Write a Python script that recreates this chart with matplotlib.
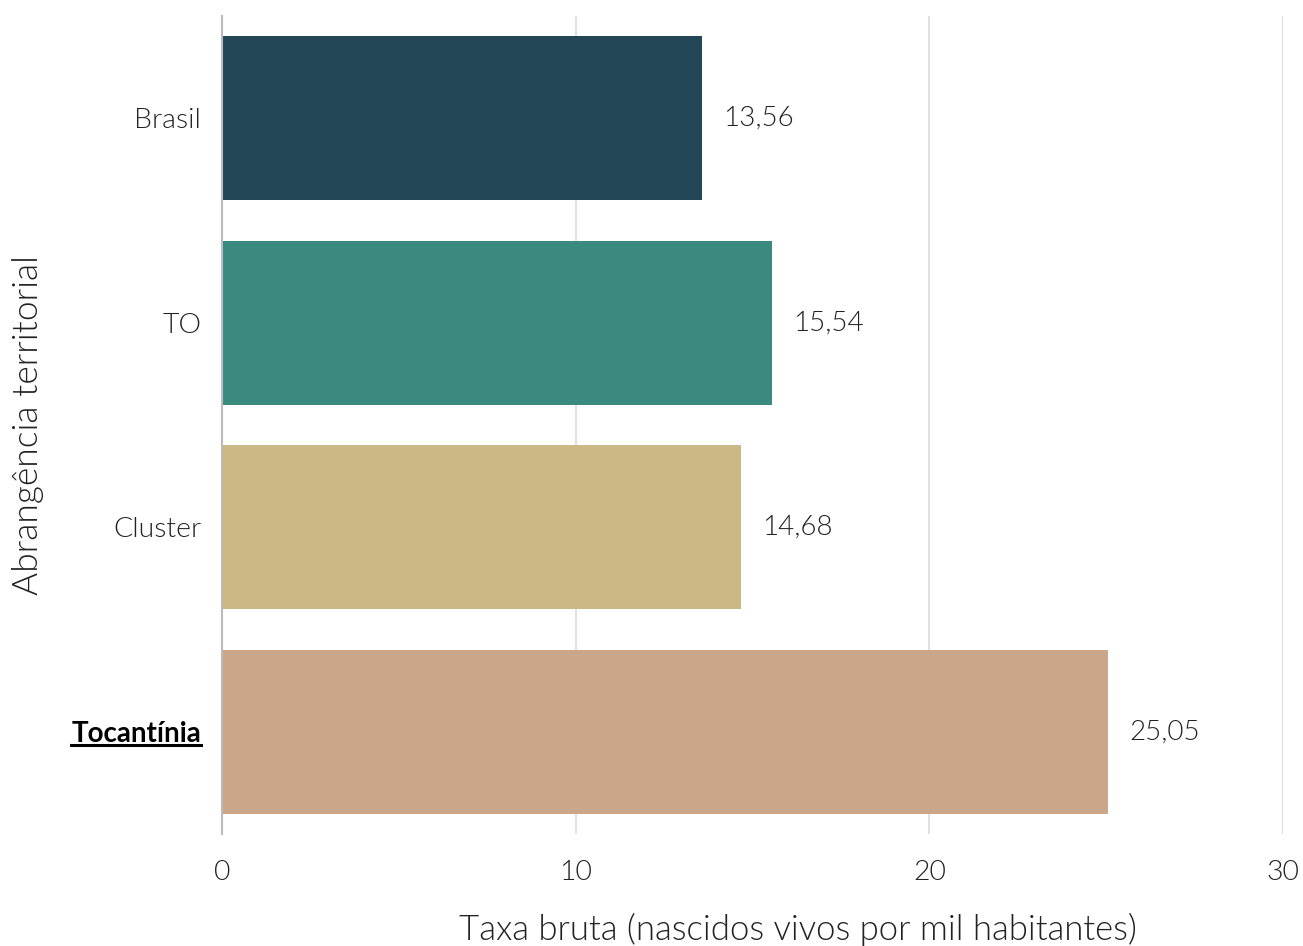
import matplotlib.pyplot as plt
from matplotlib.lines import Line2D

categorias = ['Brasil', 'TO', 'Cluster', 'Tocantínia']
taxas = [13.56, 15.54, 14.68, 25.05]
cores = ['#234756', '#3b8a80', '#cbb885', '#cba688']
destaque = 'Tocantínia'

plt.rcParams['font.family'] = ['Lato', 'DejaVu Sans']
LEVE = 300  # Lato Light

fig = plt.figure(figsize=(13.03, 9.46), dpi=100)
ax = fig.add_axes([0.1704, 0.1184, 0.8143, 0.8647])

y = list(range(len(categorias)))
ax.barh(y, taxas, height=0.8, color=cores, zorder=2)
ax.set_ylim(len(categorias) - 0.5, -0.5)
ax.set_xlim(0, 30)
ax.set_xticks([0, 10, 20, 30])
ax.set_yticks(y)
ax.set_yticklabels(categorias)

for v, yy in zip(taxas, y):
    ax.text(v + 0.6, yy, f'{v:.2f}'.replace('.', ','), va='center', ha='left',
            fontsize=20, fontweight=LEVE, color='#222222')

ax.grid(axis='x', color='#dddddd', linewidth=1.3, zorder=0)
ax.grid(axis='y', visible=False)
for s in ['top', 'right', 'bottom']:
    ax.spines[s].set_visible(False)
ax.spines['left'].set_color('#bbbbbb')
ax.spines['left'].set_linewidth(1.5)
ax.tick_params(length=0, labelsize=20.5, labelcolor='#222222')
ax.tick_params(axis='y', pad=15)
ax.tick_params(axis='x', pad=19)
for lab in ax.get_xticklabels() + ax.get_yticklabels():
    lab.set_fontweight(LEVE)

ax.set_xlabel('Taxa bruta (nascidos vivos por mil habitantes)', fontsize=25,
              fontweight=LEVE, color='#222222', va='center')
ax.xaxis.set_label_coords(0.543, -0.117)
ax.set_ylabel('Abrangência territorial', fontsize=25.5, fontweight=LEVE,
              color='#222222', va='center')
ax.yaxis.set_label_coords(-0.1828, 0.5)

for lab in ax.get_yticklabels():
    if lab.get_text() == destaque:
        lab.set_fontweight('bold')
        lab.set_fontsize(20)
        lab.set_color('black')

fig.canvas.draw()
for lab in ax.get_yticklabels():
    if lab.get_text() == destaque:
        bb = lab.get_window_extent()
        x0, x1 = bb.x0 / fig.bbox.width, bb.x1 / fig.bbox.width
        yl = (bb.y0 + 2) / fig.bbox.height
        fig.add_artist(Line2D([x0, x1], [yl, yl], color='black', linewidth=2.2))

fig.savefig('out.png', dpi=100)
